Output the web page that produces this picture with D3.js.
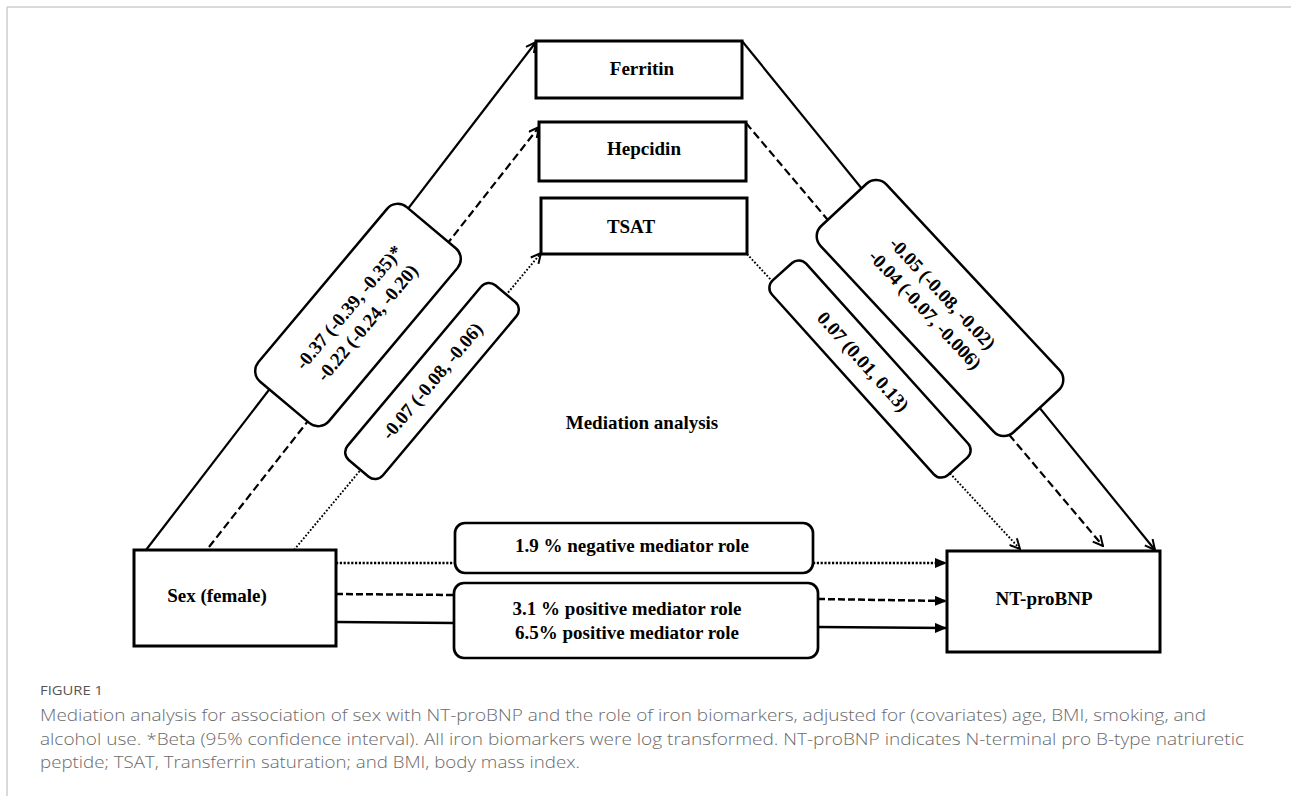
<!DOCTYPE html>
<html>
<head>
<meta charset="utf-8">
<script src="https://cdn.jsdelivr.net/npm/d3@7"></script>
<style>
body { margin: 0; background: #fff; }
.lbl { font-family: "Liberation Serif", "Times New Roman", serif; font-weight: bold; font-size: 19px; fill: #000; }
.cap { font-family: "Open Sans", "Lato", sans-serif; fill: #6a6a6a; }
</style>
</head>
<body>
<script>
// ---- data ----
var nodeLabels = ["Sex (female)", "Ferritin", "Hepcidin", "TSAT", "NT-proBNP"];
var pathStyles = ["solid", "dashed", "dotted"];
// sex -> mediator estimates (boxes on the left legs)
var sexToMediator = [
  ["-0.37 (-0.39, -0.35)*", "-0.22 (-0.24, -0.20)"],
  ["-0.07 (-0.08, -0.06)"]
];
// mediator -> NT-proBNP estimates (boxes on the right legs)
var mediatorToOutcome = [
  ["-0.05 (-0.08, -0.02)", "-0.04 (-0.07, -0.006)"],
  ["0.07 (0.01, 0.13)"]
];
var mediatedShare = [
  ["1.9 % negative mediator role"],
  ["3.1 % positive mediator role", "6.5% positive mediator role"]
];
var centerTitle = "Mediation analysis";
var figureTitle = "FIGURE 1";
var captionLines = [
  "Mediation analysis for association of sex with NT-proBNP and the role of iron biomarkers, adjusted for (covariates) age, BMI, smoking, and",
  "alcohol use. *Beta (95% confidence interval). All iron biomarkers were log transformed. NT-proBNP indicates N-terminal pro B-type natriuretic",
  "peptide; TSAT, Transferrin saturation; and BMI, body mass index."
];

// ---- layout (diagram geometry) ----
var W = 1291, H = 796;
var nodeBox = [
  {x: 134, y: 550, w: 202, h: 96, tx: 217, ty: 595},
  {x: 536, y: 41, w: 206, h: 57, tx: 642, ty: 68},
  {x: 539, y: 122, w: 207, h: 59, tx: 644, ty: 148},
  {x: 541, y: 198, w: 206, h: 56, tx: 631, ty: 226},
  {x: 947, y: 551, w: 213, h: 101, tx: 1044, ty: 598}
];
// diagonal legs, index matches pathStyles
var leftLegs = [
  {x1: 146, y1: 550, x2: 536, y2: 42},
  {x1: 209, y1: 547, x2: 539, y2: 127},
  {x1: 294, y1: 550, x2: 541, y2: 253}
];
var rightLegs = [
  {x1: 742, y1: 41, x2: 1155, y2: 550},
  {x1: 746, y1: 123, x2: 1103, y2: 546},
  {x1: 747, y1: 254, x2: 1020, y2: 549}
];
var leftTags = [
  {cx: 358, cy: 315, w: 228, h: 92, a: -50, off: 0},
  {cx: 432, cy: 381, w: 228, h: 46, a: -50, off: 0}
];
var rightTags = [
  {cx: 940, cy: 308, w: 282, h: 90, a: 47, off: -9},
  {cx: 870, cy: 369, w: 262, h: 46, a: 48, off: -10}
];
// horizontal direct paths: dotted, dashed, solid
var directIn = [
  {s: 2, x1: 336, y1: 563, x2: 455, y2: 563},
  {s: 1, x1: 336, y1: 594, x2: 454, y2: 595},
  {s: 0, x1: 336, y1: 622, x2: 454, y2: 623}
];
var directOut = [
  {s: 2, x1: 813, y1: 563, x2: 947, y2: 563},
  {s: 1, x1: 818, y1: 599, x2: 947, y2: 601},
  {s: 0, x1: 818, y1: 627, x2: 947, y2: 628}
];
var shareBox = [
  {x: 455, y: 523, w: 358, h: 50, cx: 632, cy: 545},
  {x: 454, y: 583, w: 364, h: 75, cx: 627, cy: 608}
];

var dash = {solid: null, dashed: "8,4", dotted: "1.8,1.8"};
var width = {solid: 2.2, dashed: 2.2, dotted: 1.9};
var hdash = {solid: null, dashed: "7,3", dotted: "2.2,1.6"};

var svg = d3.select("body").append("svg")
    .attr("width", W)
    .attr("height", H);

// frame lines of the figure panel
svg.append("line").attr("x1", 7).attr("y1", 7).attr("x2", W).attr("y2", 7)
    .attr("stroke", "#cdcdcd").attr("stroke-width", 1.5);
svg.append("line").attr("x1", 7).attr("y1", 7).attr("x2", 7).attr("y2", H)
    .attr("stroke", "#cdcdcd").attr("stroke-width", 1.5);

var defs = svg.append("defs");
defs.append("marker")
    .attr("id", "open")
    .attr("viewBox", "0 0 12 12")
    .attr("refX", 11).attr("refY", 6)
    .attr("markerWidth", 12).attr("markerHeight", 12)
    .attr("markerUnits", "userSpaceOnUse")
    .attr("orient", "auto")
  .append("path")
    .attr("d", "M1,1 L11,6 L1,11")
    .attr("fill", "none").attr("stroke", "#000").attr("stroke-width", 2);
defs.append("marker")
    .attr("id", "tri")
    .attr("viewBox", "0 0 12 10")
    .attr("refX", 12).attr("refY", 5)
    .attr("markerWidth", 12).attr("markerHeight", 10)
    .attr("markerUnits", "userSpaceOnUse")
    .attr("orient", "auto")
  .append("path")
    .attr("d", "M0,0 L12,5 L0,10 Z")
    .attr("fill", "#000");

// diagonal legs
function drawLegs(legs) {
  svg.append("g").selectAll("line")
    .data(legs)
    .enter().append("line")
      .attr("x1", function(d) { return d.x1; })
      .attr("y1", function(d) { return d.y1; })
      .attr("x2", function(d) { return d.x2; })
      .attr("y2", function(d) { return d.y2; })
      .attr("stroke", "#000")
      .attr("stroke-width", function(d, i) { return width[pathStyles[i]]; })
      .attr("stroke-dasharray", function(d, i) { return dash[pathStyles[i]]; })
      .attr("marker-end", "url(#open)");
}
drawLegs(leftLegs);
drawLegs(rightLegs);

// horizontal direct paths
svg.append("g").selectAll("line")
  .data(directIn.concat(directOut))
  .enter().append("line")
    .attr("x1", function(d) { return d.x1; })
    .attr("y1", function(d) { return d.y1; })
    .attr("x2", function(d) { return d.x2; })
    .attr("y2", function(d) { return d.y2; })
    .attr("stroke", "#000")
    .attr("stroke-width", function(d) { return d.s == 2 ? 2.4 : 2.5; })
    .attr("stroke-dasharray", function(d) { return hdash[pathStyles[d.s]]; })
    .attr("marker-end", function(d, i) { return i >= directIn.length ? "url(#tri)" : null; });

// node boxes
var nodes = svg.append("g").selectAll("g")
  .data(nodeLabels)
  .enter().append("g");
nodes.append("rect")
    .attr("x", function(d, i) { return nodeBox[i].x; })
    .attr("y", function(d, i) { return nodeBox[i].y; })
    .attr("width", function(d, i) { return nodeBox[i].w; })
    .attr("height", function(d, i) { return nodeBox[i].h; })
    .attr("fill", "#fff")
    .attr("stroke", "#000")
    .attr("stroke-width", 3);
nodes.append("text")
    .attr("class", "lbl")
    .attr("x", function(d, i) { return nodeBox[i].tx; })
    .attr("y", function(d, i) { return nodeBox[i].ty; })
    .attr("text-anchor", "middle")
    .attr("dominant-baseline", "central")
    .text(function(d) { return d; });

// rotated estimate tags
function drawTags(labels, tags) {
  var g = svg.append("g").selectAll("g")
    .data(labels)
    .enter().append("g")
      .attr("transform", function(d, i) {
        var t = tags[i];
        return "translate(" + t.cx + "," + t.cy + ") rotate(" + t.a + ")";
      });
  g.append("rect")
      .attr("x", function(d, i) { return -tags[i].w / 2; })
      .attr("y", function(d, i) { return -tags[i].h / 2; })
      .attr("width", function(d, i) { return tags[i].w; })
      .attr("height", function(d, i) { return tags[i].h; })
      .attr("rx", function(d, i) { return tags[i].h > 60 ? 14 : 10; })
      .attr("fill", "#fff")
      .attr("stroke", "#000")
      .attr("stroke-width", 2.5);
  g.each(function(lines, i) {
    var n = lines.length;
    d3.select(this).selectAll("text")
      .data(lines)
      .enter().append("text")
        .attr("class", "lbl")
        .attr("x", tags[i].off)
        .attr("y", function(d, k) { return (k - (n - 1) / 2) * 24; })
        .attr("text-anchor", "middle")
        .attr("dominant-baseline", "central")
        .text(function(d) { return d; });
  });
}
drawTags(sexToMediator, leftTags);
drawTags(mediatorToOutcome, rightTags);

// mediated share boxes
var share = svg.append("g").selectAll("g")
  .data(mediatedShare)
  .enter().append("g");
share.append("rect")
    .attr("x", function(d, i) { return shareBox[i].x; })
    .attr("y", function(d, i) { return shareBox[i].y; })
    .attr("width", function(d, i) { return shareBox[i].w; })
    .attr("height", function(d, i) { return shareBox[i].h; })
    .attr("rx", 10)
    .attr("fill", "#fff")
    .attr("stroke", "#000")
    .attr("stroke-width", 2.7);
share.each(function(lines, i) {
  d3.select(this).selectAll("text")
    .data(lines)
    .enter().append("text")
      .attr("class", "lbl")
      .attr("x", shareBox[i].cx)
      .attr("y", function(d, k) { return shareBox[i].cy + k * 24; })
      .attr("text-anchor", "middle")
      .attr("dominant-baseline", "central")
      .text(function(d) { return d; });
});

svg.append("text")
    .attr("class", "lbl")
    .attr("x", 642).attr("y", 422)
    .attr("text-anchor", "middle")
    .attr("dominant-baseline", "central")
    .text(centerTitle);

// caption
svg.append("text")
    .attr("class", "cap")
    .attr("x", 40).attr("y", 695)
    .attr("textLength", 63)
    .attr("lengthAdjust", "spacingAndGlyphs")
    .style("font-size", "13px")
    .style("fill", "#555")
    .text(figureTitle);
var capWidths = [1166, 1204, 540];
svg.append("g").selectAll("text")
  .data(captionLines)
  .enter().append("text")
    .attr("class", "cap")
    .attr("x", 40)
    .attr("y", function(d, i) { return 721 + i * 23.5; })
    .attr("textLength", function(d, i) { return capWidths[i]; })
    .attr("lengthAdjust", "spacingAndGlyphs")
    .style("font-size", "16px")
    .style("font-weight", 300)
    .text(function(d) { return d; });
</script>
</body>
</html>
